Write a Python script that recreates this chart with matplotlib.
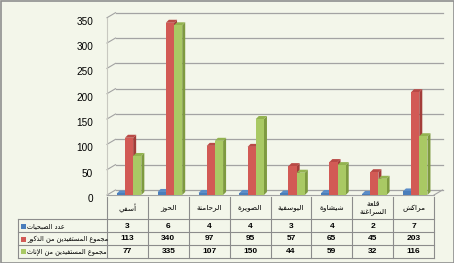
import matplotlib.pyplot as plt
from matplotlib.transforms import ScaledTranslation, blended_transform_factory
from matplotlib.patches import Polygon, Rectangle
from matplotlib.lines import Line2D

# donnees
regions = ['أسفي', 'الحوز', 'الرحامنة', 'الصويرة', 'اليوسفية', 'شيشاوة', 'قلعة\nالسراغنة', 'مراكش']
series_names = ['عدد الصبحيات', 'مجموع المستفيدين من الذكور', 'مجموع المستفيدين من الإناث']
nb_sobhiat = [3, 6, 4, 4, 3, 4, 2, 7]
males = [113, 340, 97, 95, 57, 65, 45, 203]
females = [77, 335, 107, 150, 44, 59, 32, 116]
yticks = [0, 50, 100, 150, 200, 250, 300, 350]

# couleurs (face, cote, dessus)
colors = [('#4A7EBB', '#36618F', '#5A8CC8'),
          ('#D25A55', '#A33D39', '#B94A46'),
          ('#A9C964', '#7E9A40', '#93B350')]

# mise en forme arabe (formes de presentation) : matplotlib ne fait pas le shaping
FORMS = {'ا': (0xFE8D, 2), 'أ': (0xFE83, 2), 'إ': (0xFE87, 2), 'ب': (0xFE8F, 4),
         'ة': (0xFE93, 2), 'ت': (0xFE95, 4), 'ث': (0xFE99, 4), 'ج': (0xFE9D, 4),
         'ح': (0xFEA1, 4), 'د': (0xFEA9, 2), 'ذ': (0xFEAB, 2), 'ر': (0xFEAD, 2),
         'ز': (0xFEAF, 2), 'س': (0xFEB1, 4), 'ش': (0xFEB5, 4), 'ص': (0xFEB9, 4),
         'ع': (0xFEC9, 4), 'غ': (0xFECD, 4), 'ف': (0xFED1, 4), 'ق': (0xFED5, 4),
         'ك': (0xFED9, 4), 'ل': (0xFEDD, 4), 'م': (0xFEE1, 4), 'ن': (0xFEE5, 4),
         'و': (0xFEED, 2), 'ي': (0xFEF1, 4)}
LAM_ALEF = {'ا': 0xFEFB, 'أ': 0xFEF7, 'إ': 0xFEF9}


def dual(c):
    return c in FORMS and FORMS[c][1] == 4


def shape_line(s):
    out = []
    prev = None
    i = 0
    while i < len(s):
        c = s[i]
        if c not in FORMS:
            out.append(c)
            prev = None
            i += 1
            continue
        p = prev is not None and dual(prev)
        if c == 'ل' and i + 1 < len(s) and s[i + 1] in LAM_ALEF:
            out.append(chr(LAM_ALEF[s[i + 1]] + (1 if p else 0)))
            prev = s[i + 1]
            i += 2
            continue
        q = dual(c) and i + 1 < len(s) and s[i + 1] in FORMS
        base = FORMS[c][0]
        if p and q:
            code = base + 3
        elif p:
            code = base + 1
        elif q:
            code = base + 2
        else:
            code = base
        out.append(chr(code))
        prev = c
        i += 1
    return ''.join(reversed(out))


def ar(s):
    return '\n'.join(shape_line(l) for l in s.split('\n'))


W, H = 454, 263
fig = plt.figure(figsize=(W / 100, H / 100), dpi=100)
fig.patch.set_facecolor('#F3F6EA')

x_left, x_right, y0_px, ytop_px = 107, 434, 195, 17.7
ax = fig.add_axes([x_left / W, 1 - y0_px / H, (x_right - x_left) / W, (y0_px - ytop_px) / H])
ax.set_xlim(-0.5, 7.5)
ax.set_ylim(0, 350)
ax.patch.set_visible(False)
for s in ax.spines.values():
    s.set_visible(False)
ax.set_xticks([])
ax.set_yticks(yticks)
ax.tick_params(axis='y', length=0, pad=10, labelsize=7.2)
for lab in ax.get_yticklabels():
    lab.set_fontfamily('Liberation Sans')
    lab.set_transform(lab.get_transform() + ScaledTranslation(0, -3 / 100, fig.dpi_scale_trans))

px_x = (x_right - x_left) / 8.0      # pixels par categorie
px_y = (y0_px - ytop_px) / 350.0     # pixels par unite
# profondeur du mur du fond et des barres
wdx, wdy = 8.5 / px_x, 5 / px_y
bdx, bdy = 3 / px_x, 3 / px_y

grid_c = '#A3A3A3'
for v in yticks:
    ax.plot([-0.5 + wdx, 7.5 + wdx], [v + wdy, v + wdy], color=grid_c, lw=0.9, clip_on=False, zorder=1)
    ax.plot([-0.5, -0.5 + wdx], [v, v + wdy], color=grid_c, lw=0.8, clip_on=False, zorder=1)
ax.plot([-0.5, -0.5], [0, 350], color='#C8C8C0', lw=0.8, clip_on=False, zorder=1)
ax.plot([-0.5, 7.5], [0, 0], color=grid_c, lw=0.8, clip_on=False, zorder=1)
ax.plot([7.5, 7.5 + wdx], [0, wdy], color=grid_c, lw=0.8, clip_on=False, zorder=1)

# barres 3D
series = [nb_sobhiat, males, females]
offsets = [-0.16, 0.04, 0.24]
width = 0.2
for i in range(len(regions)):
    for k, vals in enumerate(series):
        h = vals[i]
        x0 = i + offsets[k] - width / 2
        x1 = x0 + width
        face, side, top = colors[k]
        z = 3 + k
        ax.add_patch(Polygon([(x1, 0), (x1 + bdx, bdy), (x1 + bdx, h + bdy), (x1, h)],
                             closed=True, facecolor=side, edgecolor='none', zorder=z))
        ax.add_patch(Polygon([(x0, h), (x0 + bdx, h + bdy), (x1 + bdx, h + bdy), (x1, h)],
                             closed=True, facecolor=top, edgecolor='none', zorder=z))
        ax.bar(x0, h, width=width, align='edge', color=face, zorder=z)

# tableau de donnees
def fy(px):
    return 1 - px / H

tr = blended_transform_factory(ax.transData, fig.transFigure)
tra = blended_transform_factory(ax.transAxes, fig.transFigure)
line_c = '#8C8C8C'
tab_left = (18 - x_left) / (x_right - x_left)
rows_y = [219, 232, 245, 258]
for k in range(len(regions) + 1):
    ax.add_line(Line2D([k - 0.5, k - 0.5], [fy(197), fy(258)], transform=tr, color=line_c, lw=0.8, clip_on=False))
for ry in rows_y:
    ax.add_line(Line2D([tab_left, 1], [fy(ry), fy(ry)], transform=tra, color=line_c, lw=0.8, clip_on=False))
ax.add_line(Line2D([tab_left, tab_left], [fy(219), fy(258)], transform=tra, color=line_c, lw=0.8, clip_on=False))

for i, r in enumerate(regions):
    ax.text(i, fy(208), ar(r), transform=tr, ha='center', va='center', fontsize=5.3,
            family='DejaVu Sans', linespacing=1.3, clip_on=False)

text_y = [226, 239, 251.5]
for k, vals in enumerate(series):
    for i, v in enumerate(vals):
        ax.text(i, fy(text_y[k]), str(v), transform=tr, ha='center', va='center', fontsize=6,
                family='Liberation Sans', fontweight='bold', clip_on=False)
    fig.patches.append(Rectangle((21 / W, fy(text_y[k] + 2.5)), 5 / W, 5 / H, transform=fig.transFigure,
                                 facecolor=colors[k][0], edgecolor='none'))
    fig.text(27 / W, fy(text_y[k]), ar(series_names[k]), ha='left', va='center', fontsize=4.7,
             family='DejaVu Sans')

# cadre exterieur
fig.patches.append(Rectangle((0.5 / W, 0.5 / H), 1 - 1 / W, 1 - 1 / H, transform=fig.transFigure,
                             fill=False, edgecolor='#8F8F8F', lw=1.2))

fig.savefig('out.png', dpi=100, facecolor=fig.get_facecolor())
